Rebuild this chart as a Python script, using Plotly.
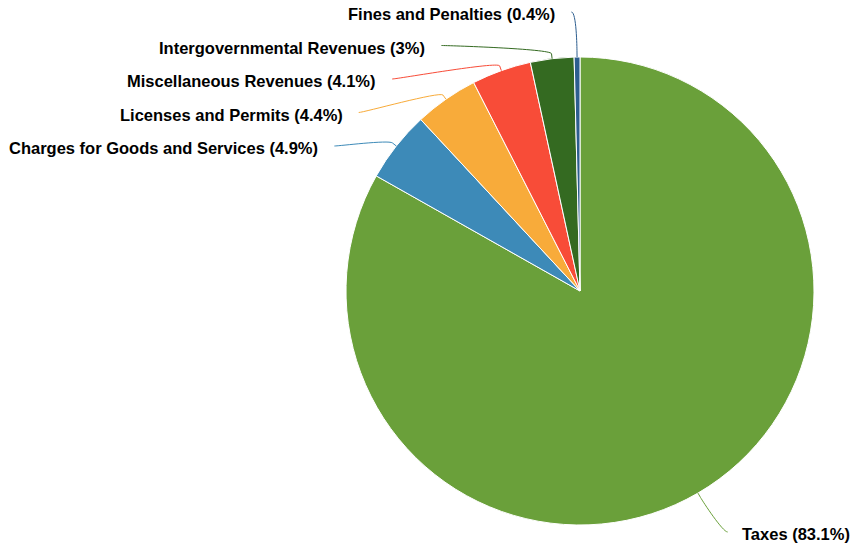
import math
import plotly.graph_objects as go

# Revenue sources and their share of total revenue (%)
categories = [
    "Taxes",
    "Charges for Goods and Services",
    "Licenses and Permits",
    "Miscellaneous Revenues",
    "Intergovernmental Revenues",
    "Fines and Penalties",
]
shares = [83.1, 4.9, 4.4, 4.1, 3, 0.4]
colors = ["#6aa03a", "#3d8ab8", "#f8ab3a", "#f84c38", "#346a21", "#2d5e8f"]

# Canvas and pie geometry (pixels)
W, H = 854, 546
CX, CY, R = 580.0, 291.0, 234.0
LABEL_DIST = 49          # distance of label anchors beyond the rim
CONNECTOR_OFFSET = 5     # where the connector bends, beyond the rim
PAD = 5
ROW = 33.5               # minimum vertical spacing between labels
TOP, BOTTOM = 12.0, 532.0
FONT = dict(family="Liberation Sans, Arial, sans-serif", size=16.5, color="#000000", weight="bold")

total = sum(shares)
mids = []
acc = 0.0
for v in shares:
    mids.append((acc + v / 2) / total * 2 * math.pi)   # clockwise from 12 o'clock
    acc += v


def polar(theta, rad):
    return CX + rad * math.sin(theta), CY - rad * math.cos(theta)


def paper(x, y):
    return x / W, 1 - y / H


RL = R + LABEL_DIST
natural = [polar(t, RL) for t in mids]

# Spread labels on each side so they do not overlap
label_y = [0.0] * len(shares)
clamped = [False] * len(shares)
for side in (True, False):  # True = left half
    idx = [i for i, t in enumerate(mids) if (t > math.pi) == side]
    idx.sort(key=lambda i: natural[i][1])
    prev = -1e9
    for i in idx:
        y = max(natural[i][1], prev + ROW, TOP)
        y = min(y, BOTTOM)
        clamped[i] = y in (TOP, BOTTOM)
        label_y[i] = y
        prev = y

shapes = []
annotations = []
for i, (name, v, col, t) in enumerate(zip(categories, shares, colors, mids)):
    left = t > math.pi
    sgn = -1 if left else 1
    yy = label_y[i]
    y_for_x = natural[i][1] if clamped[i] else yy - 4
    dx = math.sqrt(max(RL ** 2 - (y_for_x - CY) ** 2, 0.0))
    lx = CX + sgn * (dx + PAD)

    tx, ty = polar(t, R)
    bx, by = polar(t, R + CONNECTOR_OFFSET)
    c2x, c2y = 2 * bx - tx, 2 * by - ty
    c1x, c1y = lx - sgn * 5, yy

    pts = [paper(lx, yy), paper(c1x, c1y), paper(c2x, c2y), paper(bx, by), paper(tx, ty)]
    path = "M {:.5f} {:.5f} C {:.5f} {:.5f}, {:.5f} {:.5f}, {:.5f} {:.5f} L {:.5f} {:.5f}".format(
        *[c for p in pts for c in p]
    )
    shapes.append(dict(type="path", xref="paper", yref="paper", path=path,
                       line=dict(color=col, width=1), layer="above"))

    ax, ay = paper(lx + (-14 if left else 12), yy + 2)
    annotations.append(dict(
        x=ax, y=ay, xref="paper", yref="paper",
        text=f"{name} ({v:g}%)", showarrow=False,
        xanchor="right" if left else "left", yanchor="middle",
        font=FONT,
    ))

fig = go.Figure(go.Pie(
    labels=categories,
    values=shares,
    sort=False,
    direction="clockwise",
    rotation=0,
    marker=dict(colors=colors, line=dict(color="#ffffff", width=1)),
    textinfo="none",
    hoverinfo="label+percent",
    showlegend=False,
    domain=dict(x=[(CX - R) / W, (CX + R) / W], y=[1 - (CY + R) / H, 1 - (CY - R) / H]),
))

fig.update_layout(
    width=W, height=H,
    margin=dict(l=0, r=0, t=0, b=0),
    paper_bgcolor="#ffffff",
    plot_bgcolor="#ffffff",
    shapes=shapes,
    annotations=annotations,
)

fig.write_html("out.html")
